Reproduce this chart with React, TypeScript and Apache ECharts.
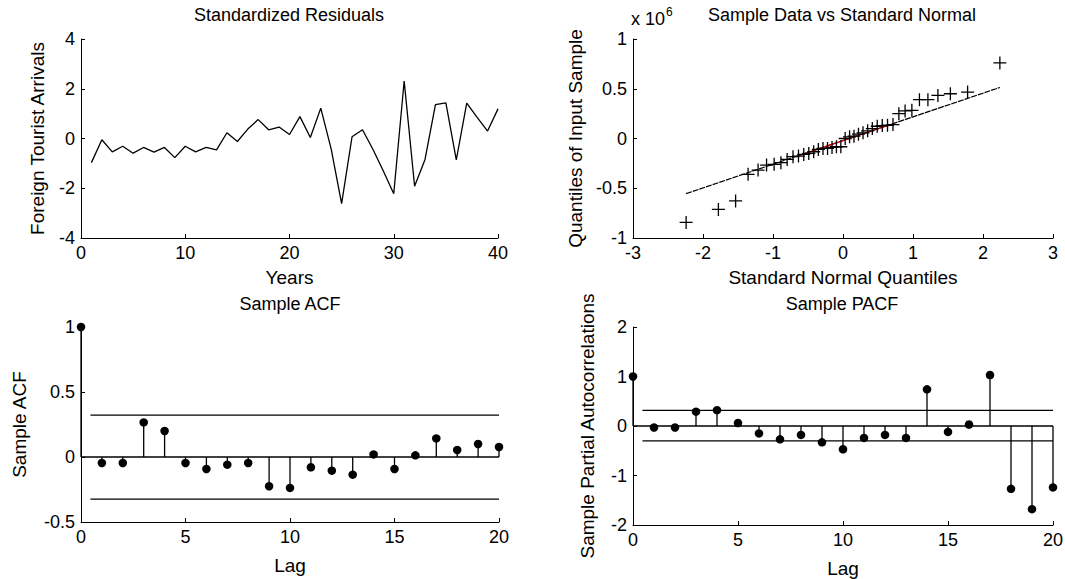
import React, { useEffect, useRef } from "react";
import * as echarts from "echarts";

// ---------- Data ----------
const residualYears = [1, 2, 3, 4, 5, 6, 7, 8, 9, 10, 11, 12, 13, 14, 15, 16, 17, 18, 19, 20,
  21, 22, 23, 24, 25, 26, 27, 28, 29, 30, 31, 32, 33, 34, 35, 36, 37, 38, 39, 40];
const residualValues = [-0.97, -0.05, -0.54, -0.31, -0.59, -0.36, -0.55, -0.36, -0.77, -0.31,
  -0.54, -0.36, -0.46, 0.23, -0.12, 0.38, 0.76, 0.35, 0.46, 0.16,
  0.88, 0.04, 1.22, -0.43, -2.62, 0.07, 0.35, -0.43, -1.31, -2.22,
  2.31, -1.92, -0.84, 1.36, 1.43, -0.86, 1.42, 0.85, 0.3, 1.19];

const qqTheoretical = [-2.241, -1.780, -1.534, -1.356, -1.213, -1.092, -0.984, -0.887, -0.798, -0.714,
  -0.636, -0.561, -0.489, -0.419, -0.352, -0.286, -0.221, -0.157, -0.094, -0.031,
  0.031, 0.094, 0.157, 0.221, 0.286, 0.352, 0.419, 0.489, 0.561, 0.636,
  0.714, 0.798, 0.887, 0.984, 1.092, 1.213, 1.356, 1.534, 1.780, 2.241];
const qqSample = [-0.843, -0.713, -0.627, -0.36, -0.317, -0.267, -0.26, -0.243, -0.21, -0.183,
  -0.177, -0.16, -0.15, -0.133, -0.11, -0.1, -0.1, -0.09, -0.083, -0.083,
  0.0, 0.017, 0.023, 0.043, 0.057, 0.077, 0.1, 0.123, 0.13, 0.133,
  0.14, 0.25, 0.277, 0.283, 0.39, 0.39, 0.433, 0.45, 0.467, 0.76];
const qqFitX = [-2.241, 2.241];
const qqFitY = [-0.554, 0.513];
const qqQuartileX = [-0.674, 0.674];
const qqQuartileY = [-0.181, 0.14];

const lags = [0, 1, 2, 3, 4, 5, 6, 7, 8, 9, 10, 11, 12, 13, 14, 15, 16, 17, 18, 19, 20];
const acfValues = [1, -0.046, -0.046, 0.266, 0.2, -0.046, -0.092, -0.059, -0.046, -0.225, -0.238,
  -0.079, -0.105, -0.136, 0.02, -0.092, 0.013, 0.143, 0.054, 0.1, 0.077];
const acfBounds = [0.322, -0.324];
const pacfValues = [1, -0.03, -0.03, 0.29, 0.32, 0.06, -0.15, -0.27, -0.18, -0.33, -0.47,
  -0.24, -0.18, -0.24, 0.74, -0.12, 0.03, 1.03, -1.27, -1.68, -1.24];
const pacfBounds = [0.315, -0.3];
const boundLagRange = [0.45, 20];
const zeroLagRange = [0, 20];

// ---------- Style ----------
const FONT = "'Liberation Sans', Arial, sans-serif";
const TICK_SIZE = 18;
const NAME_SIZE = 19;
const TITLE_SIZE = 18;

function axisCommon(extra: any) {
  return {
    axisLine: { show: true, onZero: false, lineStyle: { color: "#000", width: 1 } },
    axisTick: { show: true, inside: true, length: 4, lineStyle: { color: "#000" } },
    axisLabel: { color: "#000", fontSize: TICK_SIZE, fontFamily: FONT, margin: 6 },
    splitLine: { show: false },
    nameTextStyle: { color: "#000", fontSize: NAME_SIZE, fontFamily: FONT },
    nameLocation: "middle",
    ...extra,
  };
}

function stemSeries(xi: number, values: number[]) {
  return {
    type: "custom",
    xAxisIndex: xi,
    yAxisIndex: xi,
    data: lags.map((l, i) => [l, values[i]]),
    encode: { x: 0, y: 1 },
    renderItem: (params: any, api: any) => {
      const x = api.value(0);
      const y = api.value(1);
      const p0 = api.coord([x, 0]);
      const p1 = api.coord([x, y]);
      return {
        type: "line",
        shape: { x1: p0[0], y1: p0[1], x2: p1[0], y2: p1[1] },
        style: { stroke: "#000", lineWidth: 1.3 },
      };
    },
    z: 2,
  };
}

function dotSeries(xi: number, values: number[]) {
  return {
    type: "scatter",
    xAxisIndex: xi,
    yAxisIndex: xi,
    data: lags.map((l, i) => [l, values[i]]),
    symbol: "circle",
    symbolSize: 8.5,
    itemStyle: { color: "#000", opacity: 1 },
    z: 3,
  };
}

function hLine(xi: number, xs: number[], y: number) {
  return {
    type: "line",
    xAxisIndex: xi,
    yAxisIndex: xi,
    data: xs.map((x) => [x, y]),
    showSymbol: false,
    lineStyle: { color: "#000", width: 1.3 },
    silent: true,
    z: 1,
  };
}

export default function App() {
  const ref = useRef<HTMLDivElement>(null);

  useEffect(() => {
    if (!ref.current) return;
    const chart = echarts.init(ref.current, undefined, { renderer: "svg" });

    const titleStyle = { color: "#000", fontSize: TITLE_SIZE, fontWeight: "normal", fontFamily: FONT };

    const option: any = {
      animation: false,
      backgroundColor: "#fff",
      title: [
        { text: "Standardized Residuals", left: 289, top: 6, textAlign: "center", padding: 0, textStyle: titleStyle },
        { text: "Sample Data vs Standard Normal", left: 842, top: 6, textAlign: "center", padding: 0, textStyle: titleStyle },
        { text: "Sample ACF", left: 290, top: 295, textAlign: "center", padding: 0, textStyle: titleStyle },
        { text: "Sample PACF", left: 842, top: 295, textAlign: "center", padding: 0, textStyle: titleStyle },
        {
          text: "{a|x 10}{b|6}",
          left: 631,
          top: 6,
          padding: 0,
          textStyle: {
            fontWeight: "normal",
            rich: {
              a: { color: "#000", fontSize: 18, fontWeight: "normal", fontFamily: FONT, verticalAlign: "bottom" },
              b: { color: "#000", fontSize: 12, fontWeight: "normal", fontFamily: FONT, verticalAlign: "top", padding: [0, 0, 10, 1] },
            },
          },
        },
      ],
      grid: [
        { left: 81, top: 39, width: 417, height: 199, outerBoundsMode: "none" },
        { left: 633, top: 39, width: 420, height: 199, outerBoundsMode: "none" },
        { left: 81, top: 327, width: 418, height: 195, outerBoundsMode: "none" },
        { left: 633, top: 327, width: 420, height: 198, outerBoundsMode: "none" },
      ],
      xAxis: [
        axisCommon({ gridIndex: 0, type: "value", min: 0, max: 40, interval: 10, name: "Years", nameGap: 30 }),
        axisCommon({ gridIndex: 1, type: "value", min: -3, max: 3, interval: 1, name: "Standard Normal Quantiles", nameGap: 30 }),
        axisCommon({ gridIndex: 2, type: "value", min: 0, max: 20, interval: 5, name: "Lag", nameGap: 34 }),
        axisCommon({ gridIndex: 3, type: "value", min: 0, max: 20, interval: 5, name: "Lag", nameGap: 34 }),
      ],
      yAxis: [
        axisCommon({ gridIndex: 0, type: "value", min: -4, max: 4, interval: 2, name: "Foreign Tourist Arrivals", nameGap: 34 }),
        axisCommon({ gridIndex: 1, type: "value", min: -1, max: 1, interval: 0.5, name: "Quantiles of Input Sample", nameGap: 48 }),
        axisCommon({ gridIndex: 2, type: "value", min: -0.5, max: 1, interval: 0.5, name: "Sample ACF", nameGap: 52 }),
        axisCommon({ gridIndex: 3, type: "value", min: -2, max: 2, interval: 1, name: "Sample Partial Autocorrelations", nameGap: 36 }),
      ],
      series: [
        {
          type: "line",
          xAxisIndex: 0,
          yAxisIndex: 0,
          data: residualYears.map((x, i) => [x, residualValues[i]]),
          showSymbol: false,
          lineStyle: { color: "#000", width: 1.3 },
        },
        {
          type: "line",
          xAxisIndex: 1,
          yAxisIndex: 1,
          data: qqFitX.map((x, i) => [x, qqFitY[i]]),
          showSymbol: false,
          lineStyle: { color: "#000", width: 1.2, type: [6, 1] },
          z: 1,
        },
        {
          type: "line",
          xAxisIndex: 1,
          yAxisIndex: 1,
          data: qqQuartileX.map((x, i) => [x, qqQuartileY[i]]),
          showSymbol: false,
          lineStyle: { color: "#e00000", width: 1.3 },
          z: 2,
        },
        {
          type: "scatter",
          xAxisIndex: 1,
          yAxisIndex: 1,
          data: qqTheoretical.map((x, i) => [x, qqSample[i]]),
          symbol: "path://M0,5 L10,5 M5,0 L5,10",
          symbolSize: 13,
          itemStyle: { color: "transparent", borderColor: "#000", borderWidth: 1.3, opacity: 1 },
          z: 3,
        },
        hLine(2, zeroLagRange, 0),
        hLine(2, boundLagRange, acfBounds[0]),
        hLine(2, boundLagRange, acfBounds[1]),
        stemSeries(2, acfValues),
        dotSeries(2, acfValues),
        hLine(3, zeroLagRange, 0),
        hLine(3, boundLagRange, pacfBounds[0]),
        hLine(3, boundLagRange, pacfBounds[1]),
        stemSeries(3, pacfValues),
        dotSeries(3, pacfValues),
      ],
    };

    chart.setOption(option);
    return () => chart.dispose();
  }, []);

  return (
    <div
      ref={ref}
      style={{ position: "absolute", left: 0, top: 0, width: 1065, height: 579, background: "#fff" }}
    />
  );
}
